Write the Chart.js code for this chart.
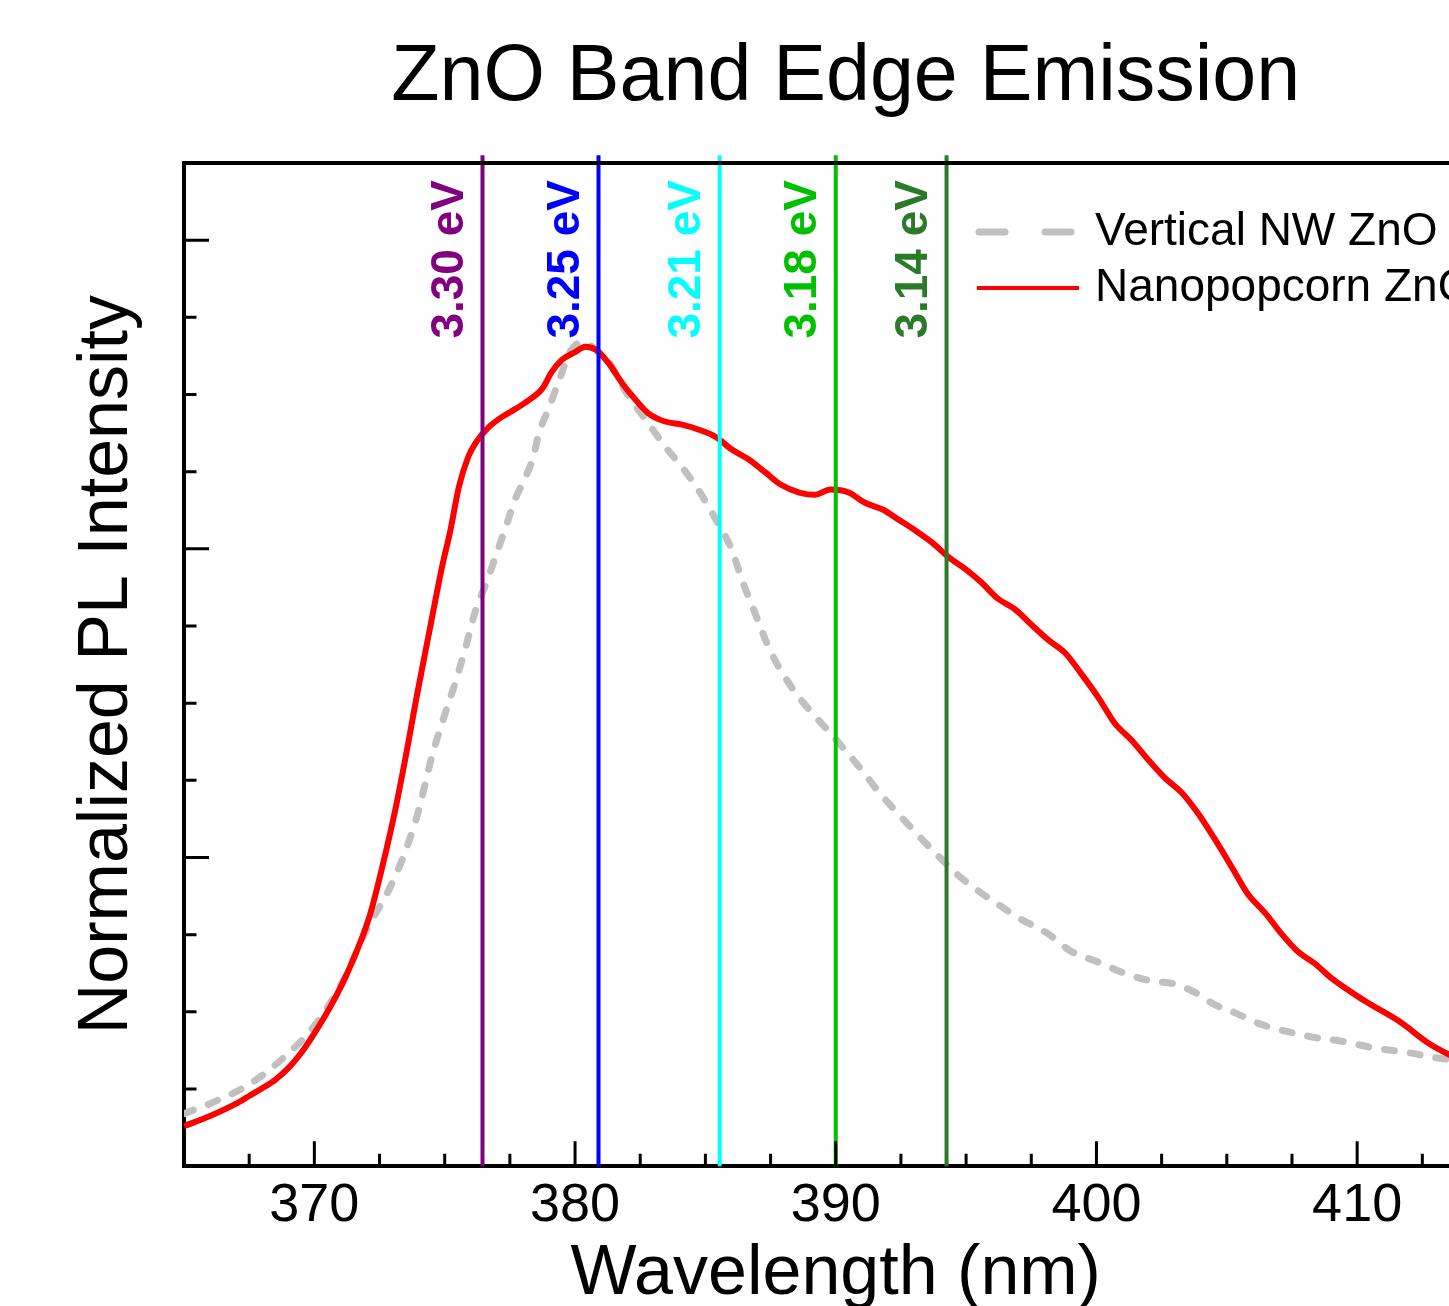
<!DOCTYPE html>
<html>
<head>
<meta charset="utf-8">
<script src="https://cdn.jsdelivr.net/npm/chart.js@4.4.1/dist/chart.umd.min.js"></script>
<style>
  body { margin: 0; background: #fff; }
  #wrap { width: 1449px; height: 1306px; overflow: hidden; }
  canvas { display: block; }
</style>
</head>
<body>
<div id="wrap"><canvas id="pl-chart" width="1692" height="1306"></canvas></div>
<script>
// vertical NW ZnO (grey dashed)
const nwWavelength = [365.0, 366.2, 367.5, 368.8, 370.05, 371.1, 372.0, 372.9, 373.5, 374.0, 374.5, 375.0,
  375.4, 375.8, 376.2, 376.6, 376.95, 377.35, 377.7, 378.1, 378.4, 378.6, 379.0, 379.4, 379.8, 380.3,
  380.8, 381.3, 381.9, 382.8, 383.45, 384.1, 384.7, 385.4, 386.0, 386.4, 386.9, 387.5, 388.3, 389.1,
  389.8, 391.1, 391.6, 392.8, 393.9, 394.7, 395.5, 396.2, 397.0, 398.15, 399.0, 400.1, 401.0, 402.1,
  403.0, 403.9, 404.5, 405.3, 406.3, 407.5, 408.5, 409.4, 410.7, 412.0, 413.1, 414.0, 415.0];
const nwIntensity = [0.068, 0.084, 0.106, 0.140, 0.184, 0.240, 0.306, 0.361, 0.409, 0.461, 0.530, 0.585,
  0.626, 0.672, 0.722, 0.756, 0.790, 0.829, 0.864, 0.893, 0.919, 0.948, 0.983, 1.019, 1.055, 1.068,
  1.058, 1.042, 1.006, 0.963, 0.933, 0.906, 0.878, 0.838, 0.800, 0.760, 0.717, 0.667, 0.621, 0.587,
  0.561, 0.509, 0.487, 0.442, 0.403, 0.377, 0.356, 0.340, 0.322, 0.301, 0.279, 0.264, 0.251, 0.240,
  0.236, 0.223, 0.210, 0.199, 0.184, 0.173, 0.166, 0.162, 0.153, 0.147, 0.140, 0.137, 0.133];

// nanopopcorn ZnO (red)
const popWavelength = [365.0, 366.0, 367.0, 367.5, 368.0, 368.5, 369.0, 369.5, 370.0, 370.7, 371.3, 372.1,
  372.6, 373.1, 373.6, 373.9, 374.4, 374.9, 375.2, 375.55, 375.9, 376.2, 376.7, 377.2, 377.7, 378.2,
  378.75, 379.1, 379.5, 380.0, 380.4, 380.8, 381.3, 381.8, 382.2, 382.8, 383.45, 384.1, 384.7, 385.4,
  386.0, 386.65, 387.3, 387.9, 388.6, 389.2, 389.8, 390.5, 391.1, 391.8, 392.4, 393.0, 393.7, 394.3,
  395.0, 395.6, 396.2, 396.9, 397.5, 398.15, 398.8, 399.4, 400.1, 400.7, 401.35, 402.0, 402.6, 403.3,
  403.9, 404.5, 405.2, 405.8, 406.5, 407.1, 407.7, 408.4, 409.0, 410.3, 411.6, 412.8, 413.5, 414.2, 415.0];
const popIntensity = [0.052, 0.065, 0.081, 0.091, 0.101, 0.112, 0.127, 0.147, 0.172, 0.212, 0.253, 0.322,
  0.387, 0.461, 0.548, 0.604, 0.691, 0.777, 0.821, 0.881, 0.919, 0.938, 0.958, 0.971, 0.981, 0.992,
  1.008, 1.029, 1.045, 1.055, 1.062, 1.058, 1.040, 1.015, 0.998, 0.976, 0.965, 0.961, 0.955, 0.945,
  0.929, 0.916, 0.899, 0.883, 0.873, 0.870, 0.877, 0.873, 0.860, 0.851, 0.838, 0.825, 0.808, 0.790,
  0.773, 0.756, 0.736, 0.721, 0.702, 0.682, 0.665, 0.639, 0.606, 0.574, 0.552, 0.526, 0.504, 0.483,
  0.457, 0.426, 0.387, 0.353, 0.327, 0.301, 0.279, 0.262, 0.244, 0.214, 0.188, 0.158, 0.145, 0.134, 0.122];

// energy markers
const markerLabels = ["3.30 eV", "3.25 eV", "3.21 eV", "3.18 eV", "3.14 eV"];
const markerWavelength = [376.45, 380.9, 385.55, 390.0, 394.25];
const markerColors = ["#800080", "#0000ff", "#00ffff", "#00c000", "#2a7a2a"];
const markerTop = 1.31;

const seriesLabels = ["Vertical NW ZnO", "Nanopopcorn ZnO"];
const chartTitle = "ZnO Band Edge Emission";

const FONT = "'Liberation Sans', Arial, sans-serif";
Chart.defaults.font.family = FONT;
Chart.defaults.color = "#000";

const toPoints = (xs, ys) => xs.map((x, i) => ({x: x, y: ys[i]}));

const datasets = [
  {
    label: seriesLabels[0],
    data: toPoints(nwWavelength, nwIntensity),
    borderColor: "#c0c0c0",
    borderWidth: 7,
    borderDash: [10, 16],
    borderCapStyle: "round",
    cubicInterpolationMode: "monotone",
    pointRadius: 0,
    order: 2
  },
  {
    label: seriesLabels[1],
    data: toPoints(popWavelength, popIntensity),
    borderColor: "#ff0000",
    borderWidth: 6,
    cubicInterpolationMode: "monotone",
    pointRadius: 0,
    order: 1
  }
];
markerWavelength.forEach((w, i) => {
  datasets.push({
    label: markerLabels[i],
    data: [{x: w, y: 0}, {x: w, y: markerTop}],
    borderColor: markerColors[i],
    borderWidth: 4,
    pointRadius: 0,
    clip: false,
    order: 0
  });
});

// title, inward ticks, top frame, marker labels, legend
const decorations = {
  id: "decorations",
  afterDraw(chart) {
    const ctx = chart.ctx;
    const a = chart.chartArea;
    const xs = chart.scales.x, ys = chart.scales.y;
    ctx.save();

    ctx.fillStyle = "#000";
    ctx.font = "79px " + FONT;
    ctx.textAlign = "center";
    ctx.textBaseline = "alphabetic";
    ctx.fillText(chartTitle, (a.left + a.right) / 2 + 10, a.top - 63);

    ctx.strokeStyle = "#000";
    ctx.lineWidth = 3;
    ctx.beginPath();
    xs.ticks.forEach(t => {
      const px = xs.getPixelForValue(t.value);
      const len = Math.round(t.value * 10) % 100 === 0 ? 25 : 12.5;
      ctx.moveTo(px, a.bottom);
      ctx.lineTo(px, a.bottom - len);
    });
    ys.ticks.forEach(t => {
      const k = Math.round(t.value * 10);
      if (k === 0) return;
      const py = ys.getPixelForValue(t.value);
      const len = k % 4 === 0 ? 25 : 12.5;
      ctx.moveTo(a.left, py);
      ctx.lineTo(a.left + len, py);
    });
    ctx.stroke();

    ctx.lineWidth = 4;
    ctx.beginPath();
    ctx.moveTo(a.left - 2, a.top);
    ctx.lineTo(a.right, a.top);
    ctx.lineTo(a.right, a.bottom);
    ctx.stroke();

    ctx.font = "bold 46px " + FONT;
    ctx.textAlign = "right";
    ctx.textBaseline = "alphabetic";
    markerWavelength.forEach((w, i) => {
      ctx.save();
      ctx.translate(xs.getPixelForValue(w) - 20, a.top + 17);
      ctx.rotate(-Math.PI / 2);
      ctx.fillStyle = markerColors[i];
      ctx.fillText(markerLabels[i], 0, 0);
      ctx.restore();
    });

    const lx = a.left + 791, ly = a.top + 69, gap = 56;
    ctx.font = "46px " + FONT;
    ctx.textAlign = "left";
    ctx.textBaseline = "middle";
    [0, 1].forEach(i => {
      const ds = chart.data.datasets[i];
      const y = ly + i * gap;
      ctx.save();
      ctx.strokeStyle = ds.borderColor;
      ctx.lineWidth = ds.borderDash ? ds.borderWidth : 4;
      ctx.lineCap = ds.borderDash ? "round" : "butt";
      ctx.setLineDash(ds.borderDash ? [26, 40] : []);
      ctx.beginPath();
      ctx.moveTo(lx + (ds.borderDash ? 4 : 2), y);
      ctx.lineTo(lx + 104, y);
      ctx.stroke();
      ctx.restore();
      ctx.fillStyle = "#000";
      ctx.fillText(ds.label, lx + 120, y);
    });
    ctx.restore();
  }
};

new Chart(document.getElementById("pl-chart"), {
  type: "line",
  data: {datasets: datasets},
  options: {
    responsive: false,
    animation: false,
    devicePixelRatio: 1,
    layout: {padding: {left: 0, right: 204.5, top: 163, bottom: 0}},
    plugins: {
      legend: {display: false},
      tooltip: {enabled: false}
    },
    scales: {
      x: {
        type: "linear",
        min: 365,
        max: 415,
        grid: {display: false, drawTicks: false},
        border: {display: true, color: "#000", width: 4},
        ticks: {
          stepSize: 2.5,
          autoSkip: false,
          maxRotation: 0,
          padding: 8,
          font: {size: 54},
          color: "#000",
          callback: v => (Math.round(v * 10) % 100 === 0 ? String(Math.round(v)) : "")
        },
        title: {
          display: true,
          text: "Wavelength (nm)",
          font: {size: 70},
          color: "#000",
          padding: {top: -14, bottom: -11}
        }
      },
      y: {
        type: "linear",
        min: 0,
        max: 1.3,
        grid: {display: false, drawTicks: false},
        border: {display: true, color: "#000", width: 4},
        ticks: {display: false, stepSize: 0.1},
        title: {
          display: true,
          text: "Normalized PL Intensity",
          font: {size: 70},
          color: "#000",
          padding: {top: 66, bottom: 34}
        }
      }
    }
  },
  plugins: [decorations]
});
</script>
</body>
</html>
